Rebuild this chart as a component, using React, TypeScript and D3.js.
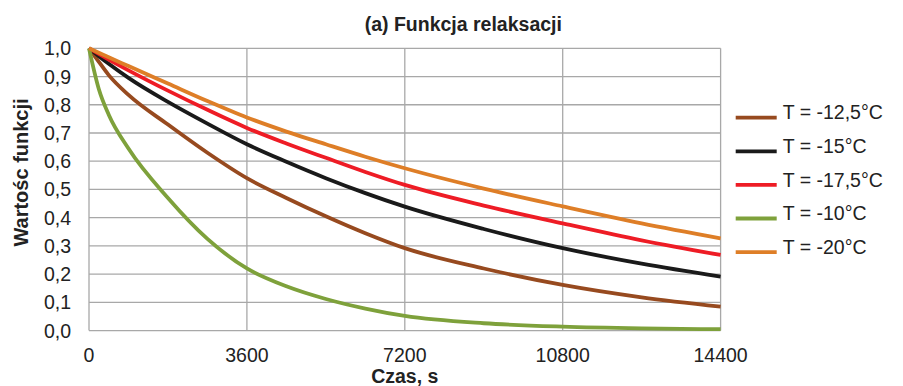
import { useEffect, useRef } from "react";
import * as d3 from "d3";

// time points (s) shared by every series
const times = [0, 225, 450, 900, 1800, 2700, 3600, 4500, 5400, 6300, 7200, 9000, 10800, 12600, 14400];

const seriesNames = ["T = -12,5°C", "T = -15°C", "T = -17,5°C", "T = -10°C", "T = -20°C"];
const seriesColors = ["#974A1F", "#1A1A1A", "#EE1C25", "#7EA13B", "#DE7E27"];

const valsMinus125 = [1, 0.952, 0.905, 0.835, 0.73, 0.63, 0.54, 0.47, 0.405, 0.345, 0.292, 0.22, 0.162, 0.118, 0.085];
const valsMinus15 = [1, 0.972, 0.945, 0.895, 0.81, 0.733, 0.66, 0.598, 0.54, 0.487, 0.439, 0.36, 0.292, 0.237, 0.191];
const valsMinus175 = [1, 0.98, 0.96, 0.922, 0.85, 0.782, 0.718, 0.663, 0.612, 0.562, 0.516, 0.443, 0.38, 0.32, 0.268];
const valsMinus10 = [1, 0.855, 0.765, 0.645, 0.47, 0.325, 0.22, 0.157, 0.112, 0.078, 0.052, 0.026, 0.014, 0.008, 0.005];
const valsMinus20 = [1, 0.984, 0.968, 0.937, 0.875, 0.813, 0.755, 0.705, 0.66, 0.616, 0.575, 0.503, 0.44, 0.38, 0.327];

const xTicks = [0, 3600, 7200, 10800, 14400];
const yTicks = [0, 0.1, 0.2, 0.3, 0.4, 0.5, 0.6, 0.7, 0.8, 0.9, 1.0];

const FONT = "'Liberation Sans', Arial, sans-serif";

export default function App() {
  const chartRef = useRef<SVGSVGElement | null>(null);

  useEffect(() => {
    const width = 903;
    const height = 386;
    const plot = { left: 89, right: 720.6, top: 48.3, bottom: 330.6 };

    const allSeries = [valsMinus125, valsMinus15, valsMinus175, valsMinus10, valsMinus20];

    const svg = d3.select(chartRef.current).attr("width", width).attr("height", height);
    svg.selectAll("*").remove();

    svg.append("rect").attr("width", width).attr("height", height).attr("fill", "#ffffff");

    const xScale = d3.scaleLinear().domain([0, 14400]).range([plot.left, plot.right]);
    const yScale = d3.scaleLinear().domain([0, 1]).range([plot.bottom, plot.top]);

    const grid = svg.append("g").attr("stroke", "#A8A8A8").attr("stroke-width", 1.3);

    // horizontal gridlines
    grid
      .selectAll(".hgrid")
      .data(yTicks)
      .enter()
      .append("line")
      .attr("x1", plot.left)
      .attr("x2", plot.right)
      .attr("y1", (d) => yScale(d))
      .attr("y2", (d) => yScale(d));

    // vertical gridlines (incl. axis at 0)
    grid
      .selectAll(".vgrid")
      .data(xTicks)
      .enter()
      .append("line")
      .attr("x1", (d) => xScale(d))
      .attr("x2", (d) => xScale(d))
      .attr("y1", plot.top)
      .attr("y2", plot.bottom);

    // y tick labels
    svg
      .append("g")
      .selectAll("text")
      .data(yTicks)
      .enter()
      .append("text")
      .attr("x", 71)
      .attr("y", (d) => yScale(d))
      .attr("dy", "0.36em")
      .attr("text-anchor", "end")
      .style("font-family", FONT)
      .style("font-size", "19.5px")
      .style("fill", "#222")
      .text((d) => d3.format(".1f")(d).replace(".", ","));

    // x tick labels
    svg
      .append("g")
      .selectAll("text")
      .data(xTicks)
      .enter()
      .append("text")
      .attr("x", (d) => xScale(d))
      .attr("y", 362)
      .attr("text-anchor", "middle")
      .style("font-family", FONT)
      .style("font-size", "19.5px")
      .style("fill", "#222")
      .text((d) => String(d));

    const line = d3
      .line<number>()
      .x((_, i) => xScale(times[i]))
      .y((d) => yScale(d))
      .curve(d3.curveMonotoneX);

    svg
      .append("g")
      .selectAll("path")
      .data(allSeries)
      .enter()
      .append("path")
      .attr("d", (d) => line(d))
      .attr("fill", "none")
      .attr("stroke", (_, i) => seriesColors[i])
      .attr("stroke-width", 3.8)
      .attr("stroke-linejoin", "round");

    // legend
    const legend = svg
      .append("g")
      .selectAll("g")
      .data(seriesNames)
      .enter()
      .append("g")
      .attr("transform", (_, i) => `translate(0,${117.7 + i * 33.6})`);

    legend
      .append("line")
      .attr("x1", 735.7)
      .attr("x2", 776.7)
      .attr("stroke", (_, i) => seriesColors[i])
      .attr("stroke-width", 3.8);

    legend
      .append("text")
      .attr("x", 782.7)
      .attr("y", 1.6)
      .style("font-family", FONT)
      .style("font-size", "19.5px")
      .style("fill", "#222")
      .text((d) => d);

    // title
    svg
      .append("text")
      .attr("x", 463.3)
      .attr("y", 30.5)
      .attr("text-anchor", "middle")
      .style("font-family", FONT)
      .style("font-size", "19.5px")
      .style("font-weight", "bold")
      .style("fill", "#222")
      .text("(a) Funkcja relaksacji");

    // x-axis label
    svg
      .append("text")
      .attr("x", (plot.left + plot.right) / 2)
      .attr("y", 383)
      .attr("text-anchor", "middle")
      .style("font-family", FONT)
      .style("font-size", "19.5px")
      .style("font-weight", "bold")
      .style("fill", "#222")
      .text("Czas, s");

    // y-axis label
    svg
      .append("text")
      .attr("transform", "translate(28,172.5) rotate(-90)")
      .attr("text-anchor", "middle")
      .style("font-family", FONT)
      .style("font-size", "20px")
      .style("font-weight", "bold")
      .style("fill", "#222")
      .text("Wartośc funkcji");
  }, []);

  return (
    <svg
      ref={chartRef}
      style={{ position: "absolute", left: 0, top: 0, display: "block" }}
    />
  );
}
